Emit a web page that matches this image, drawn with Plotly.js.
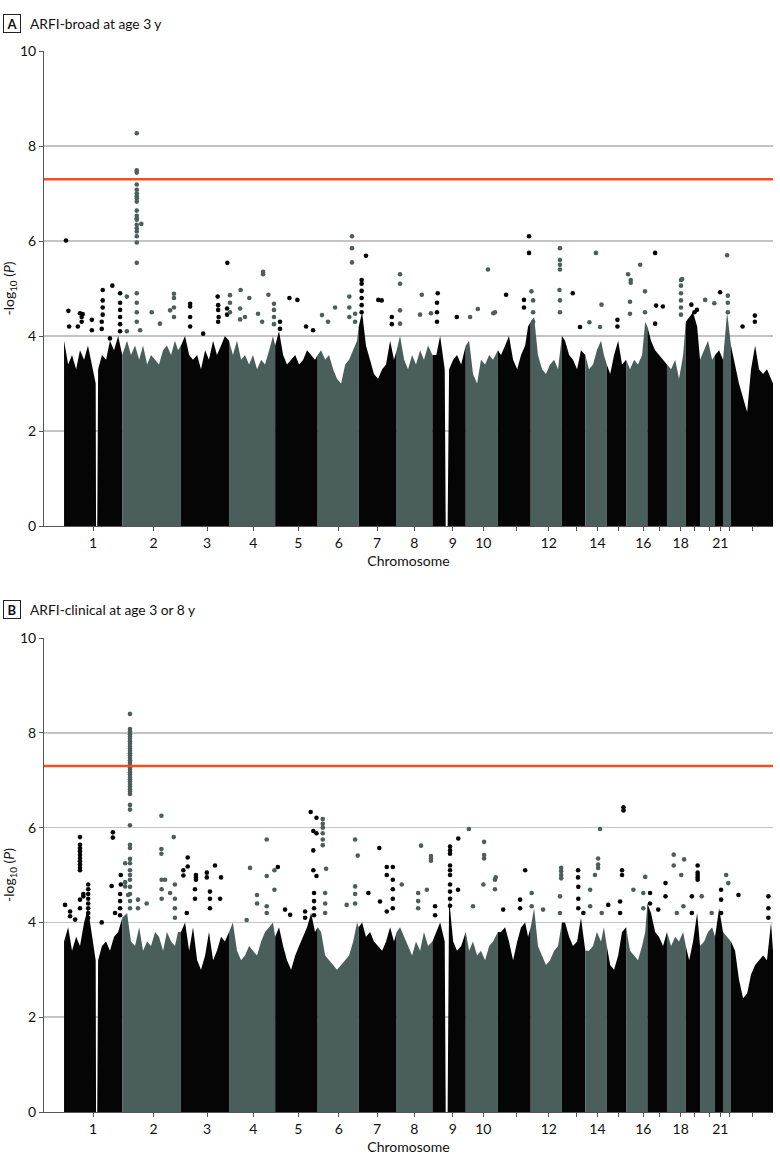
<!DOCTYPE html>
<html>
<head>
<meta charset="utf-8">
<script src="https://cdn.plot.ly/plotly-3.0.1.min.js"></script>
<style>
  html, body { margin: 0; padding: 0; background: #fff; }
  #chart { width: 780px; height: 1169px; }
</style>
</head>
<body>
<div id="chart"></div>
<script>
// Chromosomes laid end to end along a cumulative genomic axis (Mb)
const chromLabels = ['1','2','3','4','5','6','7','8','9','10','11','12','13','14','15','16','17','18','19','20','21','22','X'];
const chromStart = [0, 241, 484, 683, 874, 1050, 1220, 1377, 1525, 1663, 1796, 1932, 2061, 2158, 2247, 2327, 2415, 2496, 2574, 2633, 2695, 2728, 2761];
const chromEnd   = [241, 484, 683, 874, 1050, 1220, 1377, 1525, 1663, 1796, 1932, 2061, 2158, 2247, 2327, 2415, 2496, 2574, 2633, 2695, 2728, 2761, 2935];

// Axis ticks: labelled chromosomes and the unlabelled ones in between
const tickPos   = [120, 371, 592, 784, 970, 1138, 1296, 1450, 1609, 1736, 2007, 2208, 2398, 2553, 2717];
const tickText  = ['1','2','3','4','5','6','7','8','9','10','12','14','16','18','21'];
const plainTickPos = [1874, 2120, 2295, 2466, 2611, 2672, 2754, 2850];

// Upper edge of the dense body of SNPs, sampled along the genome
const bandPos = [
  0, 17, 33, 50, 66, 83, 99, 116, 131, 132.5, 137.5, 141, 157, 174, 190, 207, 224, 241,
  261, 277, 294, 311, 327, 344, 360, 377, 393, 410, 426, 443, 459, 472, 484,
  501, 518, 534, 551, 567, 584, 600, 617, 633, 650, 666, 683,
  699, 716, 733, 749, 766, 782, 799, 816, 832, 849, 865, 874,
  890, 907, 923, 940, 957, 973, 990, 1006, 1023, 1039, 1050,
  1064, 1081, 1097, 1114, 1130, 1147, 1164, 1180, 1197, 1213, 1220,
  1234, 1250, 1267, 1283, 1300, 1317, 1333, 1350, 1366, 1377,
  1391, 1408, 1424, 1441, 1457, 1474, 1490, 1507, 1525,
  1541, 1557, 1576, 1580, 1588, 1594, 1611, 1627, 1644, 1663,
  1677, 1693, 1710, 1726, 1743, 1760, 1776, 1796,
  1809, 1826, 1842, 1859, 1876, 1892, 1909, 1921, 1932,
  1946, 1962, 1979, 1995, 2012, 2029, 2045, 2061,
  2074, 2091, 2107, 2124, 2140, 2158,
  2173, 2190, 2206, 2223, 2235, 2247,
  2261, 2277, 2294, 2310, 2327,
  2343, 2360, 2376, 2393, 2406, 2415,
  2430, 2447, 2463, 2480, 2496,
  2513, 2530, 2546, 2563, 2574,
  2588, 2604, 2621, 2633,
  2650, 2666, 2683, 2695,
  2712, 2728,
  2745, 2761,
  2778, 2794, 2811, 2828, 2844, 2861, 2877, 2894, 2910, 2927, 2935
];
const bandBroad = [
  3.9, 3.4, 3.6, 3.3, 3.7, 3.5, 3.8, 3.4, 3.0, 0, 0, 3.3, 3.6, 3.5, 3.9, 3.7, 4.0, 3.6,
  3.9, 3.6, 3.8, 3.5, 3.8, 3.4, 3.6, 3.5, 3.4, 3.7, 3.8, 3.6, 3.9, 3.7, 3.8,
  4.0, 3.6, 3.5, 3.6, 3.3, 3.7, 3.5, 3.9, 3.6, 3.8, 4.0, 3.9,
  3.6, 3.9, 3.5, 3.6, 3.4, 3.6, 3.3, 3.5, 3.4, 3.7, 4.0, 3.8,
  4.1, 3.6, 3.4, 3.5, 3.6, 3.4, 3.5, 3.7, 3.6, 3.5, 3.6,
  3.7, 3.5, 3.6, 3.3, 3.1, 3.0, 3.4, 3.5, 3.7, 3.9, 4.2,
  4.5, 3.8, 3.5, 3.2, 3.1, 3.3, 3.4, 3.9, 3.5, 3.7,
  4.0, 3.5, 3.3, 3.6, 3.4, 3.7, 3.5, 3.8, 3.6,
  3.6, 4.0, 3.3, 0, 0, 3.3, 3.5, 3.6, 3.4, 3.8,
  3.9, 3.2, 3.0, 3.5, 3.4, 3.6, 3.5, 3.7,
  3.6, 3.8, 4.0, 3.5, 3.3, 3.6, 3.8, 4.2, 4.3,
  4.4, 3.6, 3.3, 3.2, 3.4, 3.5, 3.3, 4.0,
  3.9, 3.6, 3.5, 3.3, 3.7, 3.6,
  3.3, 3.4, 3.7, 3.9, 3.6, 3.4,
  3.2, 3.6, 3.9, 3.4, 3.5,
  3.3, 3.5, 3.4, 3.6, 4.3, 4.2,
  3.9, 3.7, 3.6, 3.5, 3.4,
  3.3, 3.5, 3.1, 3.6, 4.3,
  4.4, 4.5, 4.2, 3.5,
  3.7, 3.9, 3.5, 3.6,
  3.7, 3.5,
  4.5, 3.8,
  3.4, 3.0, 2.7, 2.4, 3.3, 3.8, 3.3, 3.2, 3.3, 3.1, 3.0
];
const bandClinical = [
  3.6, 3.9, 3.4, 3.7, 3.5, 4.0, 4.3, 3.7, 3.2, 0, 0, 3.2, 3.5, 3.6, 3.4, 3.7, 3.8, 4.1,
  4.2, 3.6, 3.5, 3.9, 3.4, 3.6, 3.5, 3.8, 3.7, 3.4, 3.8, 3.6, 3.5, 3.8, 3.8,
  4.0, 3.4, 3.9, 3.2, 3.0, 3.3, 3.8, 3.2, 3.4, 3.7, 3.6, 3.8,
  4.0, 3.4, 3.2, 3.3, 3.5, 3.4, 3.3, 3.6, 3.8, 3.9, 4.0, 3.7,
  3.9, 3.5, 3.2, 3.0, 3.3, 3.5, 3.7, 3.9, 4.2, 3.8, 3.9,
  3.8, 3.3, 3.2, 3.1, 3.0, 3.1, 3.2, 3.3, 3.6, 4.0, 3.9,
  4.0, 3.7, 3.8, 3.6, 3.5, 3.4, 3.6, 3.9, 3.6, 3.8,
  3.9, 3.7, 3.5, 3.3, 3.6, 3.4, 3.8, 3.5, 3.6,
  3.8, 4.0, 3.6, 0, 0, 4.5, 3.6, 3.4, 3.5, 3.8,
  3.4, 3.6, 3.3, 3.4, 3.2, 3.5, 3.6, 3.8,
  3.8, 3.9, 3.6, 3.2, 3.6, 3.9, 4.0, 3.7, 3.9,
  4.3, 3.5, 3.3, 3.1, 3.2, 3.4, 3.5, 4.0,
  4.0, 3.7, 3.5, 3.6, 4.1, 3.4,
  3.4, 3.5, 3.8, 3.6, 3.9, 3.5,
  3.1, 3.0, 3.3, 3.8, 3.9,
  3.4, 3.3, 3.2, 3.5, 3.8, 4.4,
  4.2, 3.8, 3.7, 3.5, 3.8,
  3.5, 3.7, 3.6, 3.8, 3.5,
  3.2, 3.6, 4.2, 3.5,
  3.6, 3.8, 3.9, 3.7,
  4.3, 3.8,
  3.7, 3.6,
  3.4, 2.8, 2.4, 2.5, 2.9, 3.1, 3.2, 3.3, 3.2, 4.0, 3.4
];

// Individual SNPs standing above the dense body: position (Mb) and their -log10(P) values
const hitsBroadPos = [
  8, 18, 21, 57, 66, 73, 77, 115, 156, 160, 190, 200, 232,
  260, 301, 315, 320, 363, 397, 439, 455,
  522, 576, 636, 638, 640, 675, 676,
  687, 729, 731, 749, 767, 803, 820, 824, 846, 869,
  894, 933, 966, 1002, 1031,
  1068, 1093, 1122, 1181, 1192, 1205,
  1232, 1250, 1301, 1315, 1357,
  1391, 1474, 1481, 1519,
  1544, 1547, 1626,
  1681, 1713, 1755, 1777, 1784,
  1830, 1904, 1925,
  1935, 1942, 2051, 2053,
  2106, 2136,
  2175, 2202, 2219, 2225,
  2291,
  2335, 2343, 2346, 2385, 2405,
  2447, 2451, 2479,
  2554, 2559,
  2597, 2610, 2620,
  2654, 2692,
  2716,
  2745, 2748,
  2809, 2860
];
const hitsBroadVal = [
  [6.01], [4.53], [4.2], [4.2], [4.48], [4.4, 4.3], [4.46], [4.34, 4.12], [4.3, 4.15], [4.97, 4.75, 4.6, 4.45], [3.95], [5.06], [4.9, 4.7, 4.55, 4.4, 4.25, 4.1],
  [4.83, 4.1], [8.27, 7.49, 7.44, 7.19, 7.08, 7.0, 6.94, 6.9, 6.83, 6.64, 6.53, 6.48, 6.45, 6.34, 6.27, 6.2, 6.1, 5.97, 5.54, 4.9, 4.7, 4.5, 4.3], [4.12], [6.36], [4.5], [4.26], [4.54], [4.89, 4.8, 4.6, 4.4],
  [4.68, 4.62, 4.4, 4.2], [4.05], [4.83], [4.65, 4.55, 4.3], [4.4], [4.58, 4.45], [5.54],
  [4.86, 4.7, 4.5], [4.58, 4.35], [4.97], [4.4], [4.8], [4.47], [4.3], [5.35, 5.3], [4.87], [4.68, 4.55, 4.4, 4.25],
  [4.3, 4.15], [4.8], [4.76], [4.2], [4.12],
  [4.44], [4.3], [4.6], [4.83, 4.6, 4.4], [6.1, 5.85, 5.55], [4.47, 4.3],
  [5.18, 5.1, 4.95, 4.8, 4.65, 4.5], [5.69], [4.76], [4.75], [4.4, 4.25],
  [5.3, 5.1, 4.54, 4.26], [4.45], [4.87], [4.48],
  [4.7, 4.5, 4.3], [4.9], [4.4],
  [4.4], [4.57], [5.4], [4.48], [4.5],
  [4.87], [4.76, 4.6], [6.1, 5.75],
  [4.94], [4.75, 4.5, 4.3], [4.97], [5.85, 5.6, 5.5, 5.4, 4.75, 4.5],
  [4.9], [4.19],
  [4.29], [5.75], [4.19], [4.66],
  [4.34, 4.2],
  [5.3], [4.72, 4.47], [5.18, 5.12], [5.5], [4.94, 4.5],
  [5.75, 4.26], [4.64], [4.62],
  [5.18, 5.06, 4.9, 4.75, 4.6, 4.45], [5.2],
  [4.66], [4.5], [4.55],
  [4.76], [4.69],
  [4.92],
  [5.7], [4.85, 4.7, 4.5],
  [4.2], [4.43, 4.3]
];

const hitsClinicalPos = [
  4, 25, 46, 66, 80, 100, 156, 197, 202, 211, 232, 235,
  253, 265, 273, 306, 342, 403, 404, 418, 439, 454, 459,
  494, 508, 512, 542, 546, 591, 604, 625, 646, 650,
  756, 770, 799, 839, 871,
  885, 915, 936, 998, 1021, 1032, 1035, 1045,
  1071, 1081, 1085, 1170, 1205, 1216,
  1260, 1305, 1308, 1336, 1361,
  1398, 1466, 1478, 1502, 1519, 1536,
  1598, 1631, 1632,
  1676, 1693, 1736, 1739, 1784, 1787,
  1818, 1888, 1909,
  1936, 1983, 2053, 2058,
  2128, 2129, 2150,
  2178, 2198, 2211, 2219, 2226, 2253,
  2302, 2310, 2316,
  2357, 2398, 2406,
  2426, 2460, 2490,
  2524, 2537, 2555, 2564, 2567,
  2599, 2623,
  2640, 2681,
  2720,
  2741, 2750,
  2792, 2916
];
const hitsClinicalVal = [
  [4.37], [4.23, 4.13], [4.06], [5.8, 5.64, 5.57, 5.5, 5.43, 5.36, 5.29, 5.22, 5.15, 5.1, 4.48, 4.3], [4.6, 4.55], [4.8, 4.7, 4.6, 4.5, 4.4, 4.3, 4.2, 4.1], [4.0], [4.77], [5.9, 5.79], [4.2], [4.6, 4.45, 4.3, 4.15], [5.0, 4.8],
  [5.25, 4.85, 4.76], [4.58],
  [8.4, 8.08, 8.03, 7.97, 7.92, 7.87, 7.82, 7.77, 7.72, 7.67, 7.62, 7.57, 7.52, 7.47, 7.42, 7.37, 7.32, 7.27, 7.22, 7.17, 7.12, 7.07, 7.02, 6.97, 6.92, 6.86, 6.81, 6.76, 6.71, 6.48, 6.38, 6.05, 5.64, 5.57, 5.34, 5.25, 5.1, 5.0, 4.9, 4.75, 4.6, 4.45, 4.3],
  [4.48, 4.3], [4.4], [6.25, 5.55, 5.45], [4.9, 4.7, 4.5], [4.9], [4.62], [5.8], [4.8, 4.5, 4.3, 4.1],
  [5.1, 4.99], [4.2], [5.37, 5.18], [4.7, 4.5], [5.0, 4.95, 4.9], [5.05, 4.95], [4.65, 4.5, 4.3], [5.2], [4.5], [4.95],
  [4.05], [5.15], [4.58, 4.4], [5.75, 4.98, 4.34, 4.2], [5.1, 4.69],
  [5.17], [4.27], [4.16], [4.23, 4.1], [6.33], [5.93, 5.52, 5.1], [4.62, 4.45, 4.3, 4.15], [6.21, 5.88, 4.98],
  [6.18, 6.08, 6.0, 5.88, 5.75, 5.63], [4.62, 4.4, 4.2], [5.13], [4.37], [5.75, 4.76, 4.6, 4.4], [5.41],
  [4.62], [5.57], [4.44], [5.17, 5.0, 4.23], [5.17, 4.9, 4.7, 4.5, 4.3],
  [4.8], [4.62, 4.45, 4.3], [5.62], [4.69], [5.4, 5.35, 5.3], [4.34, 4.15],
  [5.6, 5.52, 5.45, 5.2, 5.1, 5.0, 4.8, 4.65, 4.5, 4.35], [4.69], [5.77],
  [5.97], [4.34], [4.8], [5.7, 5.42, 5.35], [4.9, 4.7], [4.95],
  [4.27], [4.48, 4.3], [5.1],
  [4.62, 4.34], [4.27], [4.55, 4.2], [5.15, 5.08, 5.0, 4.93],
  [5.1, 4.95], [4.75, 4.5, 4.3], [4.2],
  [4.69, 4.34], [5.0], [5.35, 5.22, 5.15], [5.97], [4.2], [4.37],
  [4.44, 4.2], [5.1, 5.0], [6.43, 6.36],
  [4.69], [4.62, 4.3], [4.96],
  [4.62, 4.4], [4.27], [4.83, 4.55],
  [5.43, 5.2], [4.2], [5.0], [4.34], [5.33],
  [4.55, 4.2], [5.2, 5.05, 5.0, 4.95, 4.9],
  [4.55], [4.2],
  [4.69, 4.48, 4.2],
  [5.0], [4.83],
  [4.58], [4.55, 4.3, 4.1]
];

const significanceLine = 7.3;   // -log10(5e-8)

const panels = [
  { key: 'A', title: 'ARFI-broad at age 3 y', band: bandBroad, hitPos: hitsBroadPos, hitVal: hitsBroadVal },
  { key: 'B', title: 'ARFI-clinical at age 3 or 8 y', band: bandClinical, hitPos: hitsClinicalPos, hitVal: hitsClinicalVal }
];

const DARK = '#050505';
const SLATE = '#4a5f5b';
const chromColor = i => (i % 2 === 0 ? DARK : SLATE);
const chromIndex = p => {
  for (let i = 0; i < chromStart.length; i++) if (p >= chromStart[i] && p < chromEnd[i]) return i;
  return chromStart.length - 1;
};

const traces = [];
panels.forEach((pn, k) => {
  const xa = k === 0 ? 'x' : 'x2';
  const ya = k === 0 ? 'y' : 'y2';
  // dense body, one filled area per chromosome
  chromStart.forEach((s, i) => {
    const xs = [], ys = [];
    bandPos.forEach((p, j) => {
      if (p >= s && p <= chromEnd[i]) { xs.push(p); ys.push(pn.band[j]); }
    });
    traces.push({
      type: 'scatter', mode: 'lines', x: xs, y: ys, xaxis: xa, yaxis: ya,
      fill: 'tozeroy', fillcolor: chromColor(i), line: { width: 0, color: chromColor(i) },
      hoverinfo: 'skip', showlegend: false
    });
  });
  // individual SNPs above the body
  const px = [], py = [], pc = [];
  pn.hitPos.forEach((p, j) => {
    const c = chromColor(chromIndex(p));
    pn.hitVal[j].forEach(v => { px.push(p); py.push(v); pc.push(c); });
  });
  traces.push({
    type: 'scatter', mode: 'markers', x: px, y: py, xaxis: xa, yaxis: ya,
    marker: { size: 4.6, color: pc, line: { width: 0 } },
    hoverinfo: 'x+y', showlegend: false
  });
});

const FONT = 'Lato, "Noto Sans", "DejaVu Sans", sans-serif';

const xaxisBase = {
  range: [-83, 2935], showgrid: false, zeroline: false,
  showline: true, linecolor: '#555', linewidth: 1,
  ticks: 'outside', ticklen: 4, tickcolor: '#555', tickwidth: 1,
  tickmode: 'array', tickvals: tickPos, ticktext: tickText,
  minor: { tickmode: 'array', tickvals: plainTickPos, ticks: 'outside', ticklen: 4, tickcolor: '#555', tickwidth: 1, showgrid: false },
  tickfont: { family: FONT, size: 14, color: '#111' },
  title: { text: 'Chromosome', font: { family: FONT, size: 14, color: '#111' }, standoff: 6 }
};
const yaxisBase = {
  range: [0, 10], showgrid: true, gridcolor: '#c4c4c4', gridwidth: 1.6,
  zeroline: false, showline: true, linecolor: '#555', linewidth: 1,
  ticks: 'outside', ticklen: 4, tickcolor: '#555', tickwidth: 1,
  tickvals: [0, 2, 4, 6, 8, 10],
  tickfont: { family: FONT, size: 14, color: '#111' },
  title: { text: '-log<sub>10</sub> (<i>P</i>)', font: { family: FONT, size: 14, color: '#111' }, standoff: 8 }
};

// panel headers: boxed letter plus caption
const boxX = -0.0443, captionX = -0.0213;
const headerY = [1.0257, 0.4734];
const annotations = [];
panels.forEach((pn, k) => {
  annotations.push({
    xref: 'paper', yref: 'paper', x: boxX, y: headerY[k], xanchor: 'center', yanchor: 'middle',
    text: '<b>' + pn.key + '</b>', showarrow: false,
    font: { family: FONT, size: 13, color: '#111' },
    bordercolor: '#222', borderwidth: 1, borderpad: 2, width: 12, height: 13
  });
  annotations.push({
    xref: 'paper', yref: 'paper', x: captionX, y: headerY[k], xanchor: 'left', yanchor: 'middle',
    text: pn.title, showarrow: false,
    font: { family: FONT, size: 13.8, color: '#111' }
  });
});

const layout = {
  width: 780, height: 1169,
  margin: { l: 44, r: 7, t: 51.3, b: 56.7 },
  paper_bgcolor: '#fff', plot_bgcolor: '#fff',
  font: { family: FONT, color: '#111' },
  xaxis: Object.assign({}, xaxisBase, { anchor: 'y' }),
  yaxis: Object.assign({}, yaxisBase, { domain: [0.5523, 1], anchor: 'x' }),
  xaxis2: Object.assign({}, xaxisBase, { anchor: 'y2' }),
  yaxis2: Object.assign({}, yaxisBase, { domain: [0, 0.4467], anchor: 'x2' }),
  shapes: [
    { type: 'line', xref: 'x domain', yref: 'y', x0: 0, x1: 1, y0: significanceLine, y1: significanceLine, line: { color: '#f24f21', width: 2.6 } },
    { type: 'line', xref: 'x2 domain', yref: 'y2', x0: 0, x1: 1, y0: significanceLine, y1: significanceLine, line: { color: '#f24f21', width: 2.6 } }
  ],
  annotations: annotations
};

Plotly.newPlot('chart', traces, layout, { displayModeBar: false, staticPlot: true });
</script>
</body>
</html>
